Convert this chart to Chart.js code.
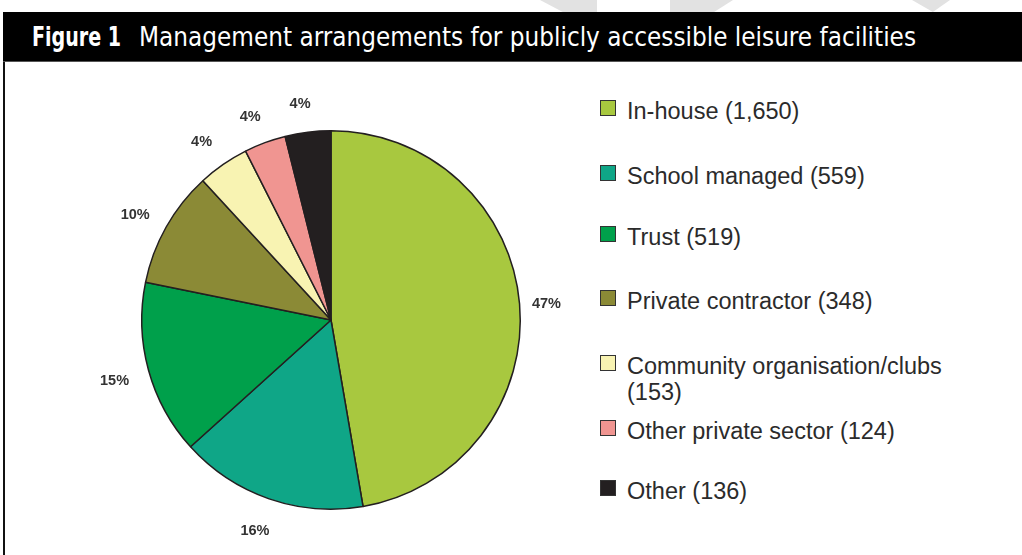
<!DOCTYPE html>
<html>
<head>
<meta charset="utf-8">
<script src="https://cdn.jsdelivr.net/npm/chart.js@4"></script>
<style>
  html, body { margin: 0; padding: 0; background: #fff; }
  body { width: 1022px; height: 555px; position: relative; overflow: hidden; font-family: "Liberation Sans", Arial, sans-serif; }
  .mark { position: absolute; top: 0; height: 12px; background: #e2e2e2; }
  #titlebar {
    position: absolute; left: 3px; top: 12px; width: 1019px; height: 50px;
    background: #000; border-bottom: 1px solid #555; box-sizing: border-box;
  }
  #titlebar span {
    position: absolute; top: 0; color: #fff; white-space: nowrap; transform-origin: 0 50%;
    font-family: "DejaVu Sans Condensed", "Liberation Sans Narrow", sans-serif;
    font-size: 27px; line-height: 49px;
  }
  #frame { position: absolute; left: 3px; top: 62px; width: 2px; height: 493px; background: #111; }
  #pieBox { position: absolute; left: 0; top: 62px; width: 590px; height: 493px; }
  #legend { position: absolute; left: 600px; top: 0; width: 360px; height: 555px; }
  .item { position: absolute; left: 0; }
  .swatch { position: absolute; left: 0; top: 0; width: 14px; height: 14px; border: 1px solid #333; }
  .text { position: absolute; left: 27px; top: -2px; width: 330px; font-size: 23.5px; line-height: 26px; color: #2b2b2b; }
</style>
</head>
<body>
<div class="mark" style="left:540px;width:57px;clip-path:polygon(0 0,100% 0,100% 100%,40% 100%)"></div>
<div class="mark" style="left:670px;width:63px;clip-path:polygon(0 0,100% 0,70% 100%,0 100%)"></div>
<div class="mark" style="left:912px;width:38px;clip-path:polygon(0 0,100% 0,55% 100%)"></div>

<div id="titlebar">
  <span id="figNo" style="left:29px;font-weight:bold" data-w="89">Figure 1</span>
  <span id="figTitle" style="left:136px" data-w="777">Management arrangements for publicly accessible leisure facilities</span>
</div>
<div id="frame"></div>
<div id="pieBox"><canvas id="pieChart"></canvas></div>
<div id="legend"></div>

<script>
// Number of facilities by management type
const categories = ['In-house', 'School managed', 'Trust', 'Private contractor',
  'Community organisation/clubs', 'Other private sector', 'Other'];
const facilities = [1650, 559, 519, 348, 153, 124, 136];
const sliceColours = ['#a8c83f', '#0fa687', '#00a04b', '#8b8a36', '#f8f3b2', '#f09591', '#231f20'];

const total = facilities.reduce((a, b) => a + b, 0);

// squeeze the title pieces into their widths (condensed look)
document.querySelectorAll('#titlebar span').forEach(s => {
  const w = s.getBoundingClientRect().width;
  s.style.transform = 'scaleX(' + (Number(s.dataset.w) / w) + ')';
});

// legend on the right, one row per category
const legend = document.getElementById('legend');
const rowTops = [100, 165, 226, 290, 355, 420, 480];
categories.forEach((name, i) => {
  const row = document.createElement('div');
  row.className = 'item';
  row.style.top = rowTops[i] + 'px';
  row.innerHTML = '<div class="swatch" style="background:' + sliceColours[i] + '"></div>' +
    '<div class="text">' + name + ' (' + facilities[i].toLocaleString('en-GB') + ')</div>';
  legend.appendChild(row);
});

// percentage labels just outside each slice
const percentLabels = {
  id: 'percentLabels',
  afterDatasetsDraw(chart) {
    const ctx = chart.ctx;
    const arcs = chart.getDatasetMeta(0).data;
    ctx.save();
    ctx.font = 'bold 14.5px "Liberation Sans", Arial, sans-serif';
    ctx.fillStyle = '#333';
    ctx.textAlign = 'center';
    ctx.textBaseline = 'middle';
    arcs.forEach((arc, i) => {
      const p = arc.getProps(['x', 'y', 'startAngle', 'endAngle', 'outerRadius'], true);
      const mid = (p.startAngle + p.endAngle) / 2;
      const r = p.outerRadius + 31;
      const pct = Math.round(facilities[i] / total * 100) + '%';
      ctx.fillText(pct, p.x - 4 + Math.cos(mid) * r, p.y + 3 + Math.sin(mid) * r);
    });
    ctx.restore();
  }
};

new Chart(document.getElementById('pieChart'), {
  type: 'pie',
  data: {
    labels: categories,
    datasets: [{
      data: facilities,
      backgroundColor: sliceColours,
      borderColor: '#231f20',
      borderWidth: 1.5
    }]
  },
  options: {
    responsive: true,
    maintainAspectRatio: false,
    animation: false,
    layout: { padding: { left: 141, top: 68, right: 69, bottom: 45 } },
    plugins: { legend: { display: false }, tooltip: { enabled: false } }
  },
  plugins: [percentLabels]
});
</script>
</body>
</html>
